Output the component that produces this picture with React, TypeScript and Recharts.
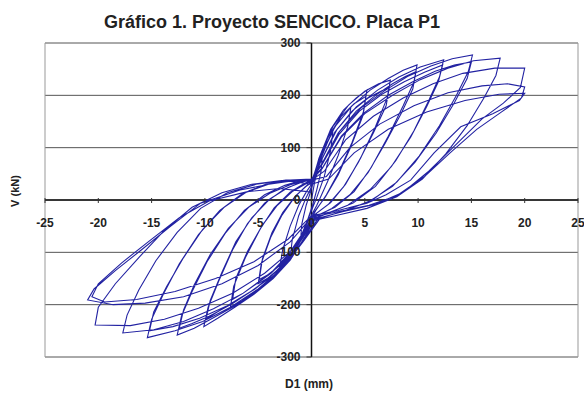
import React from "react";
import {
  CartesianGrid,
  Line,
  LineChart,
  ReferenceLine,
  XAxis,
  YAxis,
} from "recharts";

// load cycles, [D1 (mm), V (kN)] in test order
const cycle01: [number, number][] = [
  [0, 0], [0.3, 35], [0.7, 65], [1.0, 80], [0.9, 55], [0.5, 20], [0.1, -10],
  [-0.4, -40], [-0.8, -60], [-1.0, -70], [-0.9, -45], [-0.5, -10], [-0.1, 15],
];
const cycle02: [number, number][] = [
  [0.4, 50], [1.2, 100], [2.0, 130], [1.8, 95], [1.2, 45], [0.5, 5], [-0.2, -30],
  [-1.0, -70], [-1.6, -95], [-2.0, -110], [-1.8, -75], [-1.2, -30], [-0.5, 5], [0, 25],
];
const cycle03: [number, number][] = [
  [0.8, 75], [1.8, 125], [2.8, 160], [3.7, 178], [3.4, 140], [2.5, 85], [1.5, 35],
  [0.5, -10], [-0.3, -40], [-1.2, -80], [-2.2, -112], [-3.0, -130], [-2.7, -95],
  [-2.0, -50], [-1.2, -10], [-0.5, 15], [0, 30],
];
const cycle04: [number, number][] = [
  [0.7, 80], [1.8, 135], [3.0, 172], [4.2, 195], [5.2, 210], [4.9, 170], [3.8, 110],
  [2.6, 55], [1.4, 10], [0.4, -20], [-0.5, -55], [-1.6, -95], [-2.8, -128],
  [-4.0, -148], [-5.0, -160], [-4.7, -120], [-3.8, -70], [-2.8, -30], [-1.6, 5],
  [-0.6, 25], [0, 35],
];
const cycle04b: [number, number][] = [
  [0.6, 70], [1.6, 122], [2.8, 160], [4.0, 184], [5.1, 198], [4.8, 160], [3.7, 102],
  [2.5, 48], [1.3, 6], [0.3, -22], [-0.6, -58], [-1.7, -96], [-2.9, -124],
  [-4.0, -142], [-4.9, -152], [-4.6, -112], [-3.7, -62], [-2.7, -24], [-1.5, 8],
  [-0.5, 26], [0, 33],
];
const cycle05: [number, number][] = [
  [0.8, 85], [2.0, 140], [3.5, 182], [5.0, 208], [6.3, 222], [7.4, 229], [7.1, 195],
  [6.0, 140], [4.6, 80], [3.2, 30], [1.8, -5], [0.5, -25], [-0.5, -60], [-1.8, -105],
  [-3.2, -140], [-4.8, -168], [-6.2, -190], [-7.6, -204], [-7.3, -165], [-6.2, -110],
  [-4.8, -55], [-3.5, -15], [-2.0, 15], [-0.8, 30], [0, 38],
];
const cycle05b: [number, number][] = [
  [0.9, 75], [2.2, 130], [3.8, 170], [5.4, 196], [6.5, 208], [7.3, 215], [7.0, 180],
  [5.8, 128], [4.4, 72], [3.0, 25], [1.6, -8], [0.3, -28], [-0.8, -62], [-2.1, -102],
  [-3.6, -135], [-5.2, -160], [-6.4, -178], [-7.4, -190], [-7.1, -150], [-6.0, -98],
  [-4.6, -48], [-3.2, -10], [-1.8, 16], [-0.6, 30], [0, 36],
];
const cycle06: [number, number][] = [
  [0.8, 80], [2.2, 140], [3.8, 180], [5.5, 210], [7.2, 232], [8.6, 248], [9.9, 258],
  [9.6, 225], [8.6, 180], [7.2, 122], [5.6, 62], [4.0, 16], [2.2, -14], [0.5, -30],
  [-0.6, -70], [-2.0, -115], [-3.6, -150], [-5.4, -180], [-7.2, -205], [-8.8, -226],
  [-10.1, -242], [-9.7, -205], [-8.7, -155], [-7.4, -95], [-6.0, -45], [-4.4, -6],
  [-2.6, 20], [-1.0, 34], [0, 40],
];
const cycle06b: [number, number][] = [
  [1.0, 70], [2.5, 128], [4.2, 170], [6.0, 200], [7.6, 222], [8.8, 236], [9.8, 245],
  [9.5, 212], [8.4, 165], [6.9, 108], [5.3, 52], [3.6, 10], [1.9, -16], [0.4, -32],
  [-0.8, -72], [-2.3, -115], [-4.0, -150], [-5.9, -178], [-7.7, -200], [-9.0, -216],
  [-9.9, -228], [-9.5, -192], [-8.4, -138], [-7.1, -80], [-5.6, -34], [-3.9, 2],
  [-2.2, 24], [-0.8, 35], [0, 38],
];
const cycle07: [number, number][] = [
  [0.9, 75], [2.4, 135], [4.2, 178], [6.2, 210], [8.2, 235], [10.2, 254], [12.4, 268],
  [12.0, 235], [11.0, 190], [9.6, 132], [7.9, 75], [6.0, 26], [3.9, -6], [1.7, -24],
  [0, -38], [-1.2, -85], [-2.8, -130], [-4.8, -168], [-7.0, -200], [-9.2, -225],
  [-11.0, -245], [-12.6, -258], [-12.2, -222], [-11.2, -175], [-9.8, -118],
  [-8.1, -64], [-6.3, -20], [-4.4, 10], [-2.5, 28], [-0.8, 38], [0, 40],
];
const cycle07b: [number, number][] = [
  [1.0, 68], [2.6, 126], [4.5, 170], [6.6, 202], [8.7, 226], [10.6, 244], [12.3, 258],
  [11.9, 226], [10.8, 178], [9.3, 120], [7.5, 64], [5.5, 20], [3.4, -10], [1.3, -27],
  [0, -38], [-1.4, -88], [-3.1, -132], [-5.2, -168], [-7.4, -198], [-9.6, -222],
  [-11.2, -236], [-12.4, -245], [-12.0, -210], [-11.0, -162], [-9.5, -104],
  [-7.8, -54], [-5.9, -14], [-3.9, 13], [-2.0, 29], [-0.6, 37], [0, 39],
];
const cycle08: [number, number][] = [
  [1.0, 70], [2.6, 130], [4.6, 175], [6.8, 208], [9.0, 236], [11.2, 256], [13.2, 270],
  [15.1, 277], [14.7, 245], [13.6, 200], [12.0, 142], [10.1, 84], [8.0, 34], [5.7, 0],
  [3.2, -20], [0.8, -35], [-0.8, -80], [-2.6, -128], [-5.0, -170], [-7.6, -205],
  [-10.2, -232], [-12.8, -250], [-15.4, -263], [-15.0, -228], [-13.9, -180],
  [-12.4, -122], [-10.6, -66], [-8.6, -20], [-6.5, 12], [-4.3, 30], [-2.0, 38], [0, 40],
];
const cycle08b: [number, number][] = [
  [1.1, 64], [2.8, 122], [4.9, 166], [7.2, 200], [9.5, 226], [11.6, 246], [13.4, 258],
  [15.0, 264], [14.6, 232], [13.4, 186], [11.7, 128], [9.7, 72], [7.6, 26], [5.3, -4],
  [2.9, -22], [0.6, -36], [-1.0, -84], [-2.9, -130], [-5.3, -170], [-7.9, -202],
  [-10.5, -226], [-13.0, -242], [-15.2, -250], [-14.8, -214], [-13.6, -166],
  [-12.0, -110], [-10.2, -56], [-8.2, -14], [-6.1, 15], [-3.9, 31], [-1.8, 37], [0, 38],
];
const cycle09: [number, number][] = [
  [1.0, 60], [2.8, 120], [5.0, 165], [7.6, 200], [10.2, 230], [12.8, 252], [15.2, 266],
  [17.7, 271], [17.3, 238], [16.2, 196], [14.6, 142], [12.6, 88], [10.4, 40], [8.0, 6],
  [5.2, -16], [2.2, -30], [0, -40], [-1.6, -95], [-3.8, -140], [-6.4, -178],
  [-9.2, -208], [-12.0, -232], [-14.8, -248], [-17.7, -254], [-17.3, -220],
  [-16.2, -172], [-14.6, -116], [-12.6, -62], [-10.4, -16], [-7.9, 14], [-5.2, 30],
  [-2.4, 38], [0, 38],
];
const cycle10: [number, number][] = [
  [1.2, 55], [3.2, 115], [5.8, 160], [8.6, 195], [11.4, 222], [14.2, 242], [17.2, 252],
  [20.0, 252], [19.6, 215], [18.0, 185], [16.0, 155], [13.5, 105], [11.0, 55],
  [8.6, 15], [6.0, -8], [3.0, -22], [0, -38], [-1.8, -95], [-4.4, -140], [-7.4, -178],
  [-10.6, -207], [-13.8, -228], [-17.0, -240], [-20.3, -239], [-20.0, -205],
  [-18.4, -160], [-16.2, -110], [-13.8, -58], [-11.2, -14], [-8.4, 14], [-5.6, 30],
  [-2.8, 37], [0, 38],
];
const cycle11: [number, number][] = [
  [1.4, 45], [3.6, 100], [6.4, 145], [9.6, 180], [12.8, 205], [16.0, 218], [18.4, 222],
  [20.0, 216], [19.7, 195], [17.8, 168], [15.5, 135], [13.0, 90], [10.6, 45], [8.0, 8],
  [5.4, -10], [2.6, -22], [0, -33], [-2.0, -80], [-5.0, -125], [-8.4, -160],
  [-12.0, -185], [-15.6, -197], [-18.6, -200], [-21.0, -191], [-20.4, -170],
  [-18.4, -135], [-16.0, -96], [-13.2, -50], [-10.4, -6], [-6.7, 19], [-4.0, 30],
  [-2.0, 36], [0, 30],
];
const cycle12: [number, number][] = [
  [1.6, 40], [4.0, 90], [7.2, 135], [10.8, 168], [14.4, 190], [17.6, 202], [20.0, 204],
  [19.5, 190], [17.0, 165], [14.0, 140], [11.5, 90], [9.3, 38], [7.0, 10], [5.2, -6],
  [2.5, -20], [0, -30], [-2.2, -75], [-5.4, -118], [-9.0, -150], [-12.8, -175],
  [-16.4, -190], [-19.4, -195], [-20.6, -185], [-20.0, -160], [-17.8, -120],
  [-15.2, -78], [-12.4, -34], [-9.6, -2], [-6.0, 16], [-3.0, 22], [0, 15],
];

const cycles = [
  cycle01, cycle02, cycle03, cycle04, cycle04b, cycle05, cycle05b, cycle06,
  cycle06b, cycle07, cycle07b, cycle08, cycle08b, cycle09, cycle10, cycle11, cycle12,
];

const xTicks = [-25, -20, -15, -10, -5, 0, 5, 10, 15, 20, 25];
const yTicks = [-300, -200, -100, 0, 100, 200, 300];

const title = "Gráfico 1. Proyecto SENCICO. Placa P1";
const xLabel = "D1 (mm)";
const yLabel = "V (kN)";

const data = cycles.flat().map(([d, v]) => ({ d, v }));

const W = 584;
const H = 394;
const X_AXIS_H = 30;
const Y_AXIS_W = 40;
const margin = { top: 43, right: 6, bottom: 37 - X_AXIS_H, left: 45 - Y_AXIS_W };
const plotLeft = 45;
const plotW = W - plotLeft - margin.right;
const plotH = H - margin.top - 37;
// the axes cross in the middle of the plot (domains are symmetric)
const zeroX = plotLeft + plotW / 2;
const zeroY = margin.top + plotH / 2;

const font = "Arial, 'Liberation Sans', sans-serif";

function XTick(props: any) {
  const { x, payload } = props;
  return (
    <g>
      <line x1={x} x2={x} y1={zeroY - 2} y2={zeroY + 3} stroke="#333" />
      <text
        x={x}
        y={zeroY + 27}
        textAnchor="middle"
        fontSize={12}
        fontWeight="bold"
        fontFamily={font}
        fill="#222"
      >
        {payload?.value}
      </text>
    </g>
  );
}

function YTick(props: any) {
  const { y, payload } = props;
  return (
    <g>
      <line x1={zeroX - 5} x2={zeroX} y1={y} y2={y} stroke="#333" />
      <text
        x={zeroX - 11}
        y={y + 4}
        textAnchor="end"
        fontSize={12}
        fontWeight="bold"
        fontFamily={font}
        fill="#222"
      >
        {payload?.value}
      </text>
    </g>
  );
}

export default function App() {
  return (
    <div
      style={{
        position: "absolute",
        left: 0,
        top: 0,
        width: W,
        height: H,
        background: "#fff",
        fontFamily: font,
      }}
    >
      <div
        style={{
          position: "absolute",
          left: 0,
          width: 544,
          top: 12,
          textAlign: "center",
          fontSize: 18,
          fontWeight: "bold",
          color: "#222",
        }}
      >
        {title}
      </div>
      <div
        style={{
          position: "absolute",
          left: 15 - 30,
          top: 192 - 7,
          width: 60,
          textAlign: "center",
          fontSize: 11,
          fontWeight: "bold",
          color: "#222",
          transform: "rotate(-90deg)",
        }}
      >
        {yLabel}
      </div>
      <div
        style={{
          position: "absolute",
          left: 309 - 50,
          top: 377,
          width: 100,
          textAlign: "center",
          fontSize: 12,
          fontWeight: "bold",
          color: "#222",
        }}
      >
        {xLabel}
      </div>
      <div style={{ position: "absolute", left: 0, top: 0 }}>
        <LineChart width={W} height={H} data={data} margin={margin}>
          <CartesianGrid vertical={false} stroke="#555" />
          <XAxis
            type="number"
            dataKey="d"
            domain={[-25, 25]}
            ticks={xTicks}
            allowDataOverflow
            height={X_AXIS_H}
            axisLine={false}
            tickLine={false}
            tick={XTick}
            interval={0}
          />
          <YAxis
            type="number"
            dataKey="v"
            domain={[-300, 300]}
            ticks={yTicks}
            allowDataOverflow
            width={Y_AXIS_W}
            axisLine={false}
            tickLine={false}
            tick={YTick}
            interval={0}
          />
          <ReferenceLine x={-25} stroke="#999" />
          <ReferenceLine x={25} stroke="#999" />
          <ReferenceLine y={0} stroke="#111" strokeWidth={1.5} />
          <ReferenceLine x={0} stroke="#111" strokeWidth={1.5} />
          <Line
            type="linear"
            dataKey="v"
            stroke="#2222a2"
            strokeWidth={1.1}
            dot={false}
            activeDot={false}
            isAnimationActive={false}
          />
        </LineChart>
      </div>
    </div>
  );
}
